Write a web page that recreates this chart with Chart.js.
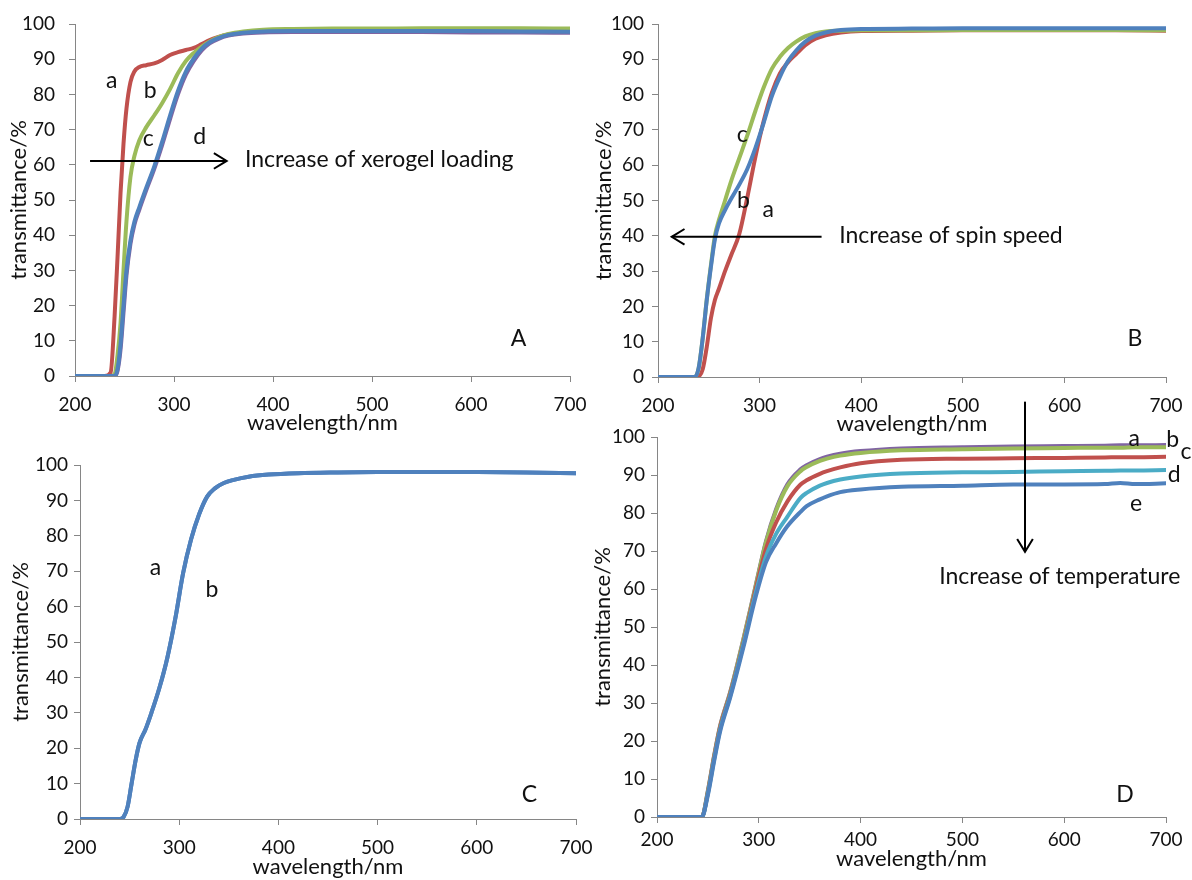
<!DOCTYPE html>
<html>
<head>
<meta charset="utf-8">
<script src="https://cdn.jsdelivr.net/npm/chart.js@4.4.0/dist/chart.umd.min.js"></script>
<style>
html, body { margin: 0; padding: 0; background: #fff; }
#wrap { position: relative; width: 1192px; height: 880px; }
#wrap canvas { position: absolute; left: 0; top: 0; }
</style>
</head>
<body>
<div id="wrap">
  <canvas id="chartA" width="1192" height="880"></canvas>
  <canvas id="chartB" width="1192" height="880"></canvas>
  <canvas id="chartC" width="1192" height="880"></canvas>
  <canvas id="chartD" width="1192" height="880"></canvas>
</div>
<script>
// ---- data ----
const xTicks = [200, 300, 400, 500, 600, 700];
const yTicks = [0, 10, 20, 30, 40, 50, 60, 70, 80, 90, 100];

// A: increase of xerogel loading
const wavelengthA = [200, 230, 236, 240, 243, 246, 249, 252, 256, 260, 265, 272, 280, 288, 296, 304, 312, 320, 328, 336, 345, 355, 370, 390, 420, 460, 500, 550, 600, 650, 700];
const aValuesA = [0, 0, 1, 17, 34, 52, 66, 76, 83.5, 86.5, 87.8, 88.3, 88.8, 89.8, 91.2, 92, 92.6, 93.2, 94.3, 95.4, 96.3, 97, 97.6, 98, 98.2, 98.3, 98.3, 98.3, 98.3, 98.2, 98.2];
const bValuesA = [0, 0, 0, 0.5, 6, 15, 30, 44, 56.5, 62.5, 67, 70.7, 74, 77.5, 81.5, 86, 89.5, 91.8, 93.6, 95, 96.3, 97.2, 97.9, 98.4, 98.6, 98.7, 98.7, 98.8, 98.8, 98.8, 98.7];
const cValuesA = [0, 0, 0, 0, 1.5, 7.5, 18, 28.5, 37.5, 43, 47.3, 52.8, 58.8, 65.6, 73, 80, 85.6, 89.5, 92.5, 94.5, 95.8, 96.7, 97.3, 97.6, 97.7, 97.7, 97.7, 97.7, 97.6, 97.6, 97.5];
const dValuesA = [0, 0, 0, 0, 2, 9, 20, 30, 38.5, 43.8, 48, 53.5, 59.5, 66.5, 74, 81, 86.5, 90.2, 93, 94.8, 96, 96.9, 97.5, 97.9, 98, 98, 98, 98, 98, 97.9, 97.8];

// B: increase of spin speed
const wavelengthB = [200, 236, 240, 244, 248, 252, 256, 260, 266, 272, 280, 288, 296, 304, 312, 320, 328, 336, 345, 355, 365, 380, 400, 450, 500, 550, 600, 650, 700];
const aValuesB = [0, 0, 0.2, 2.2, 8.5, 16.5, 21.8, 25, 30, 34.5, 40.5, 51, 62.5, 72.5, 80.5, 86, 89.2, 91.5, 94, 95.8, 96.8, 97.6, 98, 98.1, 98.2, 98.2, 98.2, 98.2, 98.1];
const bValuesB = [0, 0, 2.5, 11, 21.8, 31, 39, 43.5, 47.3, 50.5, 54.5, 59, 65, 72, 79.5, 85, 89.5, 92.5, 95, 96.7, 97.6, 98.3, 98.6, 98.7, 98.8, 98.8, 98.8, 98.8, 98.8];
const cValuesB = [0, 0, 2.5, 11, 22, 31.5, 40, 44.5, 50, 55.5, 62, 68.5, 75.5, 82, 87.3, 90.7, 93.2, 95, 96.5, 97.4, 97.9, 98.1, 98.2, 98.2, 98.3, 98.3, 98.3, 98.3, 98.2];

// C: two coinciding films
const wavelengthC = [200, 240, 244, 248, 252, 256, 260, 266, 272, 280, 288, 296, 304, 312, 320, 328, 336, 345, 355, 370, 390, 420, 460, 500, 550, 600, 650, 700];
const aValuesC = [0, 0, 0.6, 3.5, 10, 16.5, 21.5, 25.3, 30, 37, 45.5, 56.5, 69.5, 79, 86, 91, 93.4, 94.9, 95.8, 96.7, 97.3, 97.7, 97.9, 98, 98, 98, 97.9, 97.7];
const bValuesC = [0, 0, 0.6, 3.5, 10, 16.5, 21.5, 25.3, 30, 37, 45.5, 56.5, 69.5, 79, 86, 91, 93.4, 94.9, 95.8, 96.7, 97.3, 97.7, 97.9, 98, 98, 98, 97.9, 97.7];

// D: increase of temperature
const wavelengthD = [200, 244, 250, 256, 262, 272, 285, 297, 307, 317, 328, 341, 347, 360, 367, 380, 400, 440, 500, 550, 600, 640, 655, 670, 700];
const aValuesD = [0, 0, 7, 16, 24, 33, 47, 61, 72.5, 81, 87.5, 91.5, 92.6, 94.2, 94.8, 95.6, 96.3, 97, 97.3, 97.5, 97.6, 97.7, 97.8, 97.8, 97.9];
const bValuesD = [0, 0, 6.8, 15.8, 23.8, 32.8, 46.8, 60.8, 72.2, 80.6, 87, 91, 92.1, 93.7, 94.3, 95.1, 95.8, 96.5, 96.8, 97, 97.1, 97.2, 97.2, 97.3, 97.3];
const cValuesD = [0, 0, 6.5, 15.5, 23.5, 32.5, 46, 60, 70.5, 77.5, 83, 87.5, 88.6, 90.3, 91, 92, 93.1, 94, 94.3, 94.4, 94.5, 94.6, 94.7, 94.7, 94.8];
const dValuesD = [0, 0, 6.2, 15, 23, 32, 45.5, 59, 68.5, 74.5, 79, 84, 85.3, 87.2, 87.9, 88.8, 89.6, 90.4, 90.7, 90.8, 91, 91.1, 91.2, 91.2, 91.3];
const eValuesD = [0, 0, 5.8, 14.5, 22.5, 31.5, 44.8, 58, 67, 72, 76.5, 80.3, 81.8, 83.6, 84.4, 85.5, 86.2, 86.9, 87.2, 87.5, 87.5, 87.6, 87.9, 87.6, 87.8];

// ---- look ----
const FONT = 'Lato';
const TICK_SIZE = 19;
const TITLE_SIZE = 22;
const NOTE_SIZE = 23;
const INK = '#111111';
const AXIS_GREY = '#868686';
const TICK_LEN = 6;
const BLUE = '#4f81bd', RED = '#c0504d', GREEN = '#9bbb59', PURPLE = '#8064a2', AQUA = '#4bacc6';

// texts and arrows are placed in data units, converted through the scales
const notesPlugin = {
    id: 'notes',
    afterDatasetsDraw(chart, args, opts) {
        const { ctx } = chart;
        const x = chart.scales.x, y = chart.scales.y;
        ctx.save();
        ctx.fillStyle = INK;
        ctx.strokeStyle = '#000';
        ctx.font = NOTE_SIZE + 'px ' + FONT;
        ctx.textBaseline = 'middle';
        (opts.texts || []).forEach(t => {
            ctx.textAlign = t.align || 'center';
            ctx.fillText(t.text, x.getPixelForValue(t.at[0]), y.getPixelForValue(t.at[1]));
        });
        (opts.arrows || []).forEach(a => {
            const x0 = x.getPixelForValue(a.from[0]), y0 = y.getPixelForValue(a.from[1]);
            const x1 = x.getPixelForValue(a.to[0]), y1 = y.getPixelForValue(a.to[1]);
            const ang = Math.atan2(y1 - y0, x1 - x0);
            const len = 15, spread = 0.55;
            ctx.lineWidth = 2;
            ctx.beginPath();
            ctx.moveTo(x0, y0);
            ctx.lineTo(x1, y1);
            ctx.stroke();
            ctx.beginPath();
            ctx.moveTo(x1 - len * Math.cos(ang - spread), y1 - len * Math.sin(ang - spread));
            ctx.lineTo(x1, y1);
            ctx.lineTo(x1 - len * Math.cos(ang + spread), y1 - len * Math.sin(ang + spread));
            ctx.stroke();
        });
        ctx.restore();
    }
};

function makePanel(p) {
    const titleLH = TITLE_SIZE * 1.2;
    const tickLH = TICK_SIZE * 1.2;
    const padLeft = p.yTitleX - titleLH / 2;
    const xAxisH = p.xTitleY + titleLH / 2 - p.area.bottom;

    // first dataset ends up on top
    const datasets = p.series.map(s => ({
        data: p.wl.map((w, i) => ({ x: w, y: s.values[i] })),
        borderColor: s.color,
        borderWidth: 4,
        pointRadius: 0,
        fill: false,
        cubicInterpolationMode: 'monotone',
        borderCapStyle: 'round',
        borderJoinStyle: 'round'
    }));

    const tickFont = { family: FONT, size: TICK_SIZE, lineHeight: 1.2 };
    const titleFont = { family: FONT, size: TITLE_SIZE, lineHeight: 1.2 };

    new Chart(document.getElementById(p.id), {
        type: 'line',
        data: { datasets: datasets },
        plugins: [notesPlugin],
        options: {
            responsive: false,
            animation: false,
            events: [],
            layout: {
                padding: {
                    left: padLeft,
                    top: p.area.top,
                    right: 1192 - p.area.right,
                    bottom: 880 - p.area.bottom - xAxisH
                }
            },
            plugins: {
                legend: { display: false },
                tooltip: { enabled: false },
                notes: p.notes
            },
            scales: {
                x: {
                    type: 'linear',
                    min: xTicks[0],
                    max: xTicks[xTicks.length - 1],
                    afterBuildTicks: s => { s.ticks = xTicks.map(v => ({ value: v })); },
                    ticks: {
                        color: INK, font: tickFont, maxRotation: 0,
                        padding: p.xTickY - p.area.bottom - TICK_LEN - tickLH / 2
                    },
                    grid: { drawOnChartArea: false, drawTicks: true, tickLength: TICK_LEN, color: AXIS_GREY },
                    border: { color: AXIS_GREY, width: 1 },
                    title: { display: true, text: 'wavelength/nm', color: INK, font: titleFont, padding: 0 },
                    afterFit: s => { s.height = xAxisH; s.paddingLeft = 0; s.paddingRight = 0; }
                },
                y: {
                    min: yTicks[0],
                    max: yTicks[yTicks.length - 1],
                    afterBuildTicks: s => { s.ticks = yTicks.map(v => ({ value: v })); },
                    ticks: { color: INK, font: tickFont, padding: p.yGap - TICK_LEN },
                    grid: { drawOnChartArea: false, drawTicks: true, tickLength: TICK_LEN, color: AXIS_GREY },
                    border: { color: AXIS_GREY, width: 1 },
                    title: { display: true, text: 'transmittance/%', color: INK, font: titleFont, padding: 0 },
                    afterFit: s => { s.width = p.area.left - padLeft; s.paddingTop = 0; s.paddingBottom = 0; }
                }
            }
        }
    });
}

makePanel({
    id: 'chartA',
    area: { left: 75, right: 570, top: 24, bottom: 376 },
    yTitleX: 19, yGap: 20, xTickY: 405, xTitleY: 423,
    wl: wavelengthA,
    series: [
        { values: dValuesA, color: BLUE },
        { values: cValuesA, color: PURPLE },
        { values: bValuesA, color: GREEN },
        { values: aValuesA, color: RED }
    ],
    notes: {
        texts: [
            { text: 'a', at: [237, 84] },
            { text: 'b', at: [276, 81] },
            { text: 'c', at: [274, 67.5] },
            { text: 'd', at: [326, 68] },
            { text: 'Increase of xerogel loading', at: [371.7, 61.5], align: 'left' },
            { text: 'A', at: [648, 10.7] }
        ],
        arrows: [{ from: [215.2, 61.1], to: [353.2, 61.1] }]
    }
});

makePanel({
    id: 'chartB',
    area: { left: 658, right: 1166, top: 24, bottom: 377 },
    yTitleX: 604, yGap: 14, xTickY: 406, xTitleY: 424,
    wl: wavelengthB,
    series: [
        { values: bValuesB, color: BLUE },
        { values: cValuesB, color: GREEN },
        { values: aValuesB, color: RED }
    ],
    notes: {
        texts: [
            { text: 'c', at: [283, 68.6] },
            { text: 'b', at: [284, 50.1] },
            { text: 'a', at: [308.6, 47.3] },
            { text: 'Increase of spin speed', at: [378.4, 40], align: 'left' },
            { text: 'B', at: [669.5, 11] }
        ],
        arrows: [{ from: [361, 39.7], to: [213.5, 39.7] }]
    }
});

makePanel({
    id: 'chartC',
    area: { left: 80, right: 576, top: 465, bottom: 819 },
    yTitleX: 21, yGap: 12, xTickY: 848, xTitleY: 867,
    wl: wavelengthC,
    series: [
        { values: bValuesC, color: BLUE },
        { values: aValuesC, color: BLUE }
    ],
    notes: {
        texts: [
            { text: 'a', at: [276, 71.1] },
            { text: 'b', at: [333, 64.9] },
            { text: 'C', at: [653, 6.8] }
        ]
    }
});

makePanel({
    id: 'chartD',
    area: { left: 657, right: 1166, top: 437, bottom: 817 },
    yTitleX: 603, yGap: 12, xTickY: 840, xTitleY: 859,
    wl: wavelengthD,
    series: [
        { values: eValuesD, color: BLUE },
        { values: dValuesD, color: AQUA },
        { values: cValuesD, color: RED },
        { values: bValuesD, color: GREEN },
        { values: aValuesD, color: PURPLE }
    ],
    notes: {
        texts: [
            { text: 'a', at: [668.8, 99.7] },
            { text: 'b', at: [706.5, 99.2] },
            { text: 'c', at: [719.7, 96.1] },
            { text: 'd', at: [708, 90] },
            { text: 'e', at: [670.5, 82.6] },
            { text: 'Increase of temperature', at: [595.7, 63.2] },
            { text: 'D', at: [659.6, 5.8] }
        ],
        arrows: [{ from: [561.5, 109.3], to: [561.5, 69.8] }]
    }
});
</script>
</body>
</html>
